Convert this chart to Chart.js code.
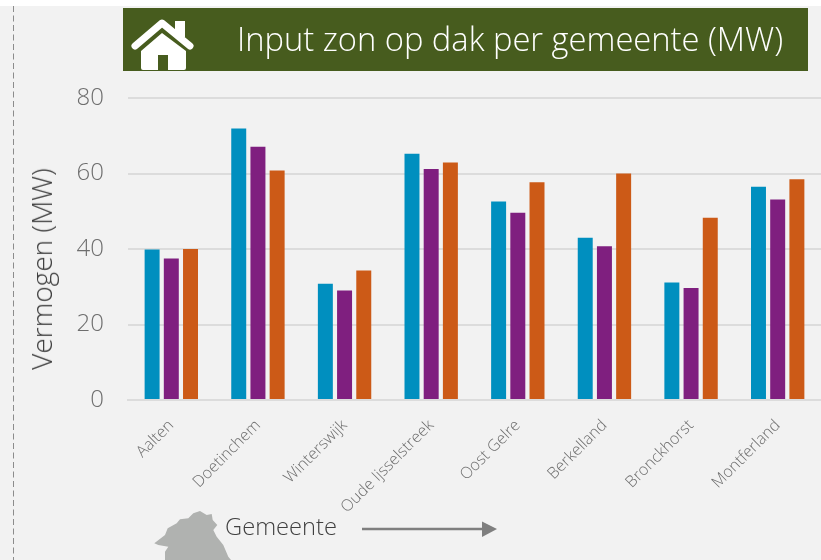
<!DOCTYPE html>
<html>
<head>
<meta charset="utf-8">
<script src="https://cdn.jsdelivr.net/npm/chart.js@4"></script>
<style>
    html, body { margin: 0; padding: 0; }
    body { width: 821px; height: 560px; background: #f2f2f2; position: relative; overflow: hidden; font-family: "Open Sans", sans-serif; font-weight: 300; }
    #strip { position: absolute; left: 0; top: 0; width: 821px; height: 6px; background: #fff; }
    #banner { position: absolute; left: 123px; top: 8px; width: 685px; height: 63px; background: #475c1e; }
    #title { position: absolute; left: 237px; top: 17px; color: #fff; font-size: 32.7px; line-height: 44px; white-space: nowrap; }
    #ytitle { position: absolute; left: 41px; top: 269px; color: #404040; font-size: 28px; line-height: 30px; white-space: nowrap; transform: translate(-50%, -50%) rotate(-90deg); }
    #xtitle { position: absolute; left: 225px; top: 510px; color: #404040; font-size: 23.7px; line-height: 32px; white-space: nowrap; }
    canvas { position: absolute; left: 0; top: 0; }
    svg { position: absolute; left: 0; top: 0; }
</style>
</head>
<body>
<div id="strip"></div>
<div id="banner"></div>
<svg width="821" height="560">
    <line x1="13.5" y1="6" x2="13.5" y2="560" stroke="#8c8c8c" stroke-width="1" stroke-dasharray="6 3.5"/>
    <path d="M141 51 L162 33 L186 51 L186 68 Q186 70 184 70 L168 70 L168 55 L158 55 L158 70 L143 70 Q141 70 141 68 Z" fill="#fff"/>
    <rect x="175" y="21" width="10" height="16" fill="#fff"/>
    <path d="M135 46 L162 23 L190 46" fill="none" stroke="#fff" stroke-width="7" stroke-linecap="round" stroke-linejoin="round"/>
    <path d="M154.3 543.3 L165 535 L167.7 528.3 L176.7 523.3 L180 519.3 L188.3 518.3 L193.3 513.3 L200 511 L206.7 515 L211.7 514 L212.7 520 L217.3 525 L213.3 530 L216.7 536.7 L223.3 545 L228.3 556.7 L231 560 L165 560 L165 551.7 L168.3 546.7 L158.3 545 Z" fill="#b0b2b0"/>
    <line x1="362" y1="529" x2="484" y2="529" stroke="#7f7f7f" stroke-width="2.5"/>
    <path d="M482 521.5 L497 529 L482 537 Z" fill="#7f7f7f"/>
</svg>
<canvas id="chart" width="821" height="560"></canvas>
<div id="title">Input zon op dak per gemeente (MW)</div>
<div id="ytitle">Vermogen (MW)</div>
<div id="xtitle">Gemeente</div>
<script>
const categories = ["Aalten", "Doetinchem", "Winterswijk", "Oude Ijsselstreek", "Oost Gelre", "Berkelland", "Bronckhorst", "Montferland"];
const blueValues = [39.9, 71.9, 30.8, 65.2, 52.6, 43, 31.1, 56.5];
const purpleValues = [37.5, 67.1, 29, 61.2, 49.6, 40.7, 29.7, 53.1];
const orangeValues = [40, 60.8, 34.3, 62.9, 57.7, 60, 48.3, 58.5];

function makeSeries(values, color) {
    return {
        data: values,
        backgroundColor: color,
        borderWidth: 0,
        categoryPercentage: 0.665,
        barPercentage: 0.78
    };
}

new Chart(document.getElementById("chart"), {
    type: "bar",
    data: {
        labels: categories,
        datasets: [
            makeSeries(blueValues, "#008fbf"),
            makeSeries(purpleValues, "#7f1f7f"),
            makeSeries(orangeValues, "#cc5a17")
        ]
    },
    options: {
        responsive: false,
        animation: false,
        layout: { autoPadding: false, padding: { top: 98, left: 0, right: 0, bottom: 0 } },
        plugins: { legend: { display: false }, tooltip: { enabled: false } },
        scales: {
            x: {
                afterFit: function(scale) { scale.height = 160; },
                grid: { display: false },
                border: { color: "#dcdcdc", width: 2 },
                ticks: {
                    color: "#6e6e6e",
                    font: { family: "Open Sans", weight: "300", size: 16 },
                    minRotation: 45,
                    maxRotation: 45,
                    autoSkip: false,
                    padding: 8
                }
            },
            y: {
                min: 0,
                max: 80,
                afterFit: function(scale) { scale.width = 128; },
                grid: { color: "#dcdcdc", lineWidth: 2, drawTicks: false },
                border: { display: false },
                ticks: {
                    stepSize: 20,
                    color: "#6e6e6e",
                    font: { family: "Open Sans", weight: "300", size: 24 },
                    padding: 24
                }
            }
        }
    }
});
</script>
</body>
</html>
